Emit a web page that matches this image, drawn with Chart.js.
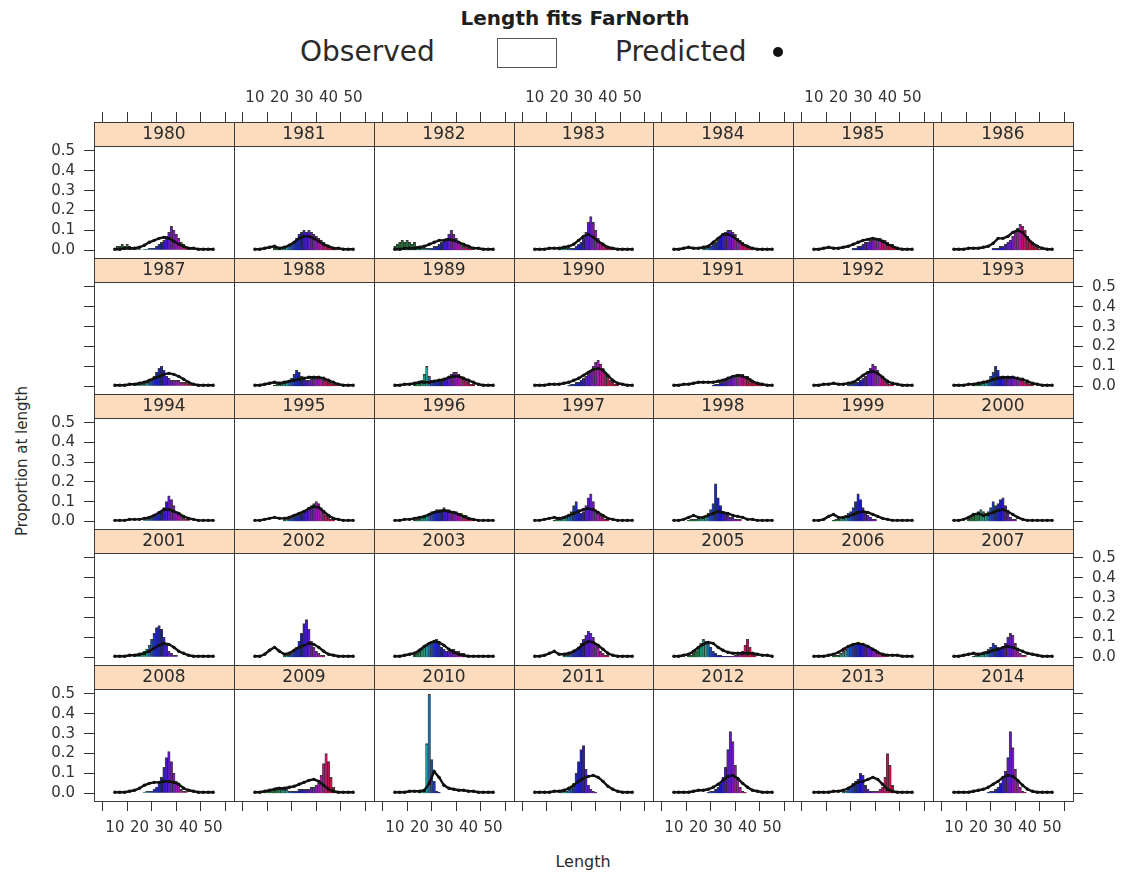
<!DOCTYPE html>
<html>
<head>
<meta charset="utf-8">
<title>Length fits FarNorth</title>
<script src="https://cdn.jsdelivr.net/npm/chart.js@4.4.1/dist/chart.umd.min.js"></script>
<style>
  html, body { margin: 0; padding: 0; background: #fff; }
  #page { position: relative; width: 1124px; height: 878px; overflow: hidden;
          font-family: "DejaVu Sans", sans-serif; color: #222; }
  #page canvas { position: absolute; }
  .txt { position: absolute; white-space: nowrap; line-height: 1; }
</style>
</head>
<body>
<div id="page">
  <div class="txt" style="left:575px;top:18px;transform:translate(-50%,-50%);font-weight:bold;font-size:20px;color:#1e1e1e;">Length fits FarNorth</div>
  <div class="txt" style="left:300px;top:52px;transform:translateY(-50%);font-size:28px;color:#2a2a2a;">Observed</div>
  <div style="position:absolute;left:497px;top:38px;width:58px;height:28px;border:1px solid #555;"></div>
  <div class="txt" style="left:615px;top:52px;transform:translateY(-50%);font-size:28px;color:#2a2a2a;">Predicted</div>
  <div style="position:absolute;left:773px;top:47px;width:10px;height:10px;border-radius:50%;background:#111;"></div>
  <div class="txt" style="left:22px;top:461px;transform:translate(-50%,-50%) rotate(-90deg);font-size:15px;color:#2a2a2a;">Proportion at length</div>
  <div class="txt" style="left:583px;top:862px;transform:translate(-50%,-50%);font-size:16px;color:#2a2a2a;">Length</div>
</div>
<script>
// Survey years, one panel each
const years = [1980, 1981, 1982, 1983, 1984, 1985, 1986,
               1987, 1988, 1989, 1990, 1991, 1992, 1993,
               1994, 1995, 1996, 1997, 1998, 1999, 2000,
               2001, 2002, 2003, 2004, 2005, 2006, 2007,
               2008, 2009, 2010, 2011, 2012, 2013, 2014];

const xTickValues = [10, 20, 30, 40, 50];
const yTickValues = [0, 0.1, 0.2, 0.3, 0.4, 0.5];

// Observed proportions at length (1 cm bins), first bin given in obsStart
const obsStart = [10, 18, 10, 20, 22, 26, 26,
                  18, 18, 18, 24, 26, 24, 18,
                  22, 22, 18, 18, 16, 18, 16,
                  18, 22, 18, 22, 16, 18, 18,
                  22, 14, 20, 21, 24, 22, 24];

const obsProp = [
  [0.01,0.02,0.02,0.03,0.02,0.03,0.02,0.01,0.01,0.005,0.005,0,0.005,0.005,0.01,0.01,0.01,0.02,0.03,0.04,0.05,0.07,0.09,0.12,0.10,0.08,0.06,0.04,0.03,0.02,0.01,0.005],
  [0.01,0.01,0.01,0.01,0.02,0.02,0.03,0.03,0.04,0.06,0.08,0.09,0.10,0.09,0.10,0.09,0.08,0.07,0.06,0.05,0.04,0.03,0.02,0.02,0.01,0.01],
  [0.02,0.03,0.04,0.05,0.04,0.05,0.04,0.03,0.04,0.02,0.01,0.01,0.01,0.01,0.01,0.01,0.02,0.02,0.03,0.04,0.05,0.06,0.08,0.10,0.08,0.06,0.04,0.03,0.02,0.02,0.01,0.01],
  [0.005,0.01,0.01,0.01,0.01,0.01,0.01,0.02,0.03,0.04,0.06,0.09,0.14,0.17,0.14,0.10,0.06,0.04,0.03,0.02,0.01,0.01,0.005],
  [0.01,0.01,0.02,0.02,0.03,0.04,0.05,0.07,0.08,0.09,0.10,0.10,0.09,0.08,0.06,0.05,0.04,0.03,0.02,0.01,0.01],
  [0.01,0.01,0.02,0.02,0.03,0.04,0.04,0.05,0.05,0.06,0.06,0.06,0.05,0.05,0.04,0.03,0.03,0.02,0.01,0.01],
  [0.01,0.01,0.01,0.02,0.02,0.03,0.04,0.05,0.07,0.09,0.11,0.13,0.12,0.10,0.07,0.05,0.03,0.02,0.01,0.005],
  [0.005,0.01,0.01,0.01,0.01,0.02,0.02,0.03,0.05,0.07,0.09,0.10,0.08,0.05,0.04,0.03,0.03,0.03,0.03,0.02,0.02,0.02,0.01,0.01],
  [0.005,0.01,0.01,0.01,0.02,0.02,0.03,0.04,0.06,0.08,0.07,0.05,0.04,0.03,0.03,0.04,0.04,0.04,0.04,0.04,0.03,0.03,0.02,0.02,0.01,0.01],
  [0.01,0.02,0.02,0.03,0.06,0.10,0.05,0.03,0.03,0.03,0.03,0.03,0.03,0.04,0.05,0.06,0.07,0.07,0.06,0.05,0.04,0.03,0.02,0.01,0.01],
  [0.005,0.01,0.01,0.02,0.02,0.03,0.04,0.05,0.06,0.08,0.10,0.12,0.13,0.11,0.09,0.07,0.05,0.03,0.02,0.01,0.01],
  [0.005,0.01,0.01,0.02,0.02,0.03,0.03,0.04,0.04,0.05,0.05,0.06,0.06,0.05,0.05,0.04,0.03,0.02,0.02,0.01,0.01],
  [0.005,0.01,0.01,0.02,0.02,0.03,0.04,0.05,0.07,0.09,0.11,0.10,0.08,0.06,0.04,0.03,0.02,0.01,0.01],
  [0.005,0.01,0.01,0.01,0.02,0.02,0.03,0.05,0.07,0.10,0.08,0.05,0.04,0.04,0.04,0.04,0.05,0.04,0.04,0.03,0.03,0.02,0.02,0.01,0.01],
  [0.005,0.01,0.01,0.02,0.02,0.03,0.04,0.05,0.07,0.10,0.13,0.11,0.08,0.05,0.04,0.03,0.02,0.01,0.01],
  [0.005,0.01,0.01,0.02,0.02,0.03,0.03,0.04,0.05,0.06,0.07,0.08,0.09,0.10,0.09,0.07,0.05,0.03,0.02,0.01,0.01],
  [0.005,0.01,0.01,0.02,0.02,0.03,0.04,0.05,0.05,0.06,0.06,0.06,0.07,0.06,0.06,0.05,0.05,0.05,0.04,0.04,0.03,0.03,0.02,0.01,0.01],
  [0.005,0.01,0.01,0.01,0.02,0.02,0.03,0.05,0.08,0.10,0.06,0.04,0.05,0.08,0.12,0.14,0.10,0.06,0.04,0.03,0.02,0.01,0.01],
  [0.005,0.01,0.01,0.01,0.02,0.02,0.02,0.03,0.04,0.06,0.09,0.19,0.12,0.08,0.05,0.04,0.03,0.02,0.02,0.01,0.01,0.01],
  [0.005,0.01,0.01,0.02,0.02,0.03,0.04,0.05,0.07,0.10,0.14,0.11,0.07,0.04,0.03,0.02,0.01,0.01],
  [0.01,0.02,0.03,0.04,0.05,0.06,0.05,0.04,0.05,0.07,0.10,0.08,0.09,0.11,0.12,0.08,0.04,0.02,0.01,0.01],
  [0.005,0.01,0.01,0.02,0.03,0.04,0.06,0.09,0.12,0.15,0.16,0.14,0.10,0.06,0.03,0.02,0.01,0.01],
  [0.005,0.01,0.01,0.02,0.03,0.05,0.08,0.12,0.17,0.19,0.14,0.08,0.05,0.03,0.02,0.01,0.01],
  [0.01,0.02,0.03,0.04,0.05,0.06,0.07,0.08,0.08,0.09,0.07,0.05,0.04,0.03,0.03,0.04,0.04,0.03,0.03,0.02,0.02,0.01,0.01],
  [0.005,0.01,0.01,0.02,0.03,0.04,0.05,0.07,0.09,0.11,0.13,0.12,0.10,0.07,0.05,0.03,0.02,0.01,0.01],
  [0.005,0.01,0.02,0.03,0.05,0.07,0.09,0.08,0.07,0.05,0.03,0.02,0.01,0.01,0.005,0.005,0.005,0.005,0.005,0.01,0.01,0.02,0.03,0.06,0.09,0.05,0.02,0.01],
  [0.005,0.01,0.01,0.02,0.03,0.04,0.05,0.06,0.06,0.07,0.07,0.07,0.07,0.06,0.06,0.05,0.04,0.04,0.03,0.02,0.01,0.01],
  [0.005,0.01,0.01,0.02,0.02,0.03,0.04,0.05,0.07,0.06,0.05,0.04,0.05,0.07,0.10,0.12,0.11,0.07,0.04,0.02,0.01,0.01],
  [0.005,0.01,0.01,0.01,0.02,0.03,0.05,0.08,0.13,0.18,0.21,0.16,0.10,0.06,0.04,0.02,0.01,0.01],
  [0.005,0.01,0.01,0.02,0.02,0.03,0.03,0.02,0.02,0.02,0.01,0.01,0.01,0.01,0.02,0.02,0.02,0.02,0.02,0.03,0.03,0.04,0.05,0.09,0.15,0.20,0.16,0.08,0.03,0.01],
  [0.005,0.01,0.02,0.25,0.50,0.17,0.06,0.01,0.005],
  [0.005,0.01,0.01,0.02,0.03,0.05,0.10,0.16,0.22,0.24,0.12,0.04,0.02,0.01,0.005],
  [0.005,0.01,0.01,0.02,0.03,0.05,0.08,0.13,0.22,0.31,0.26,0.14,0.07,0.03,0.01,0.005],
  [0.005,0.01,0.02,0.03,0.05,0.06,0.07,0.10,0.09,0.04,0.02,0.01,0.01,0.01,0.01,0.02,0.03,0.08,0.20,0.14,0.04,0.01],
  [0.005,0.01,0.01,0.02,0.03,0.05,0.07,0.11,0.18,0.31,0.23,0.12,0.06,0.03,0.01,0.005]
];

// Model-predicted proportions at length
const predLength = [10, 12, 14, 16, 18, 20, 22, 24, 26, 28, 30, 32, 34, 36, 38, 40, 42, 44, 46, 48, 50];

const predProp = [
  [0.005,0.005,0.01,0.01,0.01,0.015,0.025,0.04,0.05,0.06,0.065,0.06,0.045,0.03,0.02,0.01,0.01,0.005,0.005,0.005,0.005],
  [0.005,0.005,0.01,0.015,0.02,0.01,0.015,0.025,0.04,0.06,0.07,0.07,0.06,0.045,0.03,0.02,0.01,0.01,0.005,0.005,0.005],
  [0.005,0.005,0.01,0.01,0.01,0.015,0.02,0.03,0.04,0.05,0.05,0.055,0.05,0.04,0.03,0.02,0.01,0.01,0.005,0.005,0.005],
  [0.005,0.005,0.005,0.01,0.01,0.01,0.015,0.02,0.03,0.05,0.07,0.08,0.065,0.045,0.03,0.015,0.01,0.005,0.005,0.005,0.005],
  [0.005,0.005,0.01,0.015,0.01,0.01,0.015,0.02,0.04,0.06,0.08,0.08,0.07,0.05,0.03,0.02,0.01,0.005,0.005,0.005,0.005],
  [0.005,0.005,0.01,0.015,0.01,0.01,0.015,0.02,0.03,0.04,0.05,0.055,0.06,0.055,0.045,0.03,0.02,0.01,0.005,0.005,0.005],
  [0.005,0.005,0.005,0.01,0.01,0.01,0.015,0.02,0.035,0.06,0.06,0.07,0.09,0.10,0.09,0.06,0.035,0.02,0.01,0.005,0.005],
  [0.005,0.005,0.005,0.01,0.01,0.015,0.02,0.03,0.04,0.05,0.06,0.065,0.06,0.05,0.035,0.02,0.01,0.005,0.005,0.005,0.005],
  [0.005,0.005,0.01,0.015,0.02,0.015,0.02,0.025,0.03,0.035,0.04,0.045,0.045,0.045,0.04,0.03,0.02,0.01,0.005,0.005,0.005],
  [0.005,0.005,0.01,0.01,0.015,0.02,0.02,0.02,0.025,0.03,0.035,0.045,0.05,0.05,0.04,0.03,0.02,0.01,0.005,0.005,0.005],
  [0.005,0.005,0.005,0.01,0.01,0.01,0.015,0.02,0.03,0.04,0.055,0.07,0.085,0.09,0.08,0.055,0.03,0.015,0.01,0.005,0.005],
  [0.005,0.005,0.01,0.01,0.015,0.02,0.02,0.02,0.02,0.025,0.03,0.04,0.05,0.055,0.05,0.04,0.025,0.015,0.01,0.005,0.005],
  [0.005,0.005,0.01,0.01,0.015,0.01,0.01,0.015,0.02,0.035,0.055,0.07,0.075,0.065,0.045,0.025,0.015,0.01,0.005,0.005,0.005],
  [0.005,0.005,0.005,0.01,0.01,0.015,0.02,0.025,0.035,0.04,0.045,0.045,0.045,0.04,0.035,0.025,0.015,0.01,0.005,0.005,0.005],
  [0.005,0.005,0.005,0.01,0.01,0.01,0.015,0.02,0.03,0.045,0.06,0.06,0.05,0.04,0.025,0.015,0.01,0.005,0.005,0.005,0.005],
  [0.005,0.005,0.01,0.015,0.02,0.015,0.015,0.02,0.03,0.04,0.05,0.065,0.075,0.07,0.05,0.03,0.015,0.01,0.005,0.005,0.005],
  [0.005,0.005,0.01,0.01,0.015,0.02,0.025,0.035,0.045,0.05,0.055,0.05,0.045,0.035,0.025,0.015,0.01,0.005,0.005,0.005,0.005],
  [0.005,0.005,0.01,0.015,0.02,0.015,0.02,0.03,0.04,0.05,0.06,0.065,0.06,0.045,0.03,0.015,0.01,0.005,0.005,0.005,0.005],
  [0.005,0.005,0.01,0.02,0.03,0.02,0.02,0.03,0.04,0.05,0.045,0.04,0.03,0.025,0.02,0.01,0.01,0.005,0.005,0.005,0.005],
  [0.005,0.005,0.01,0.025,0.035,0.02,0.02,0.025,0.035,0.045,0.05,0.045,0.035,0.025,0.015,0.01,0.005,0.005,0.005,0.005,0.005],
  [0.005,0.005,0.01,0.02,0.035,0.04,0.03,0.035,0.045,0.055,0.06,0.05,0.035,0.02,0.01,0.005,0.005,0.005,0.005,0.005,0.005],
  [0.005,0.005,0.005,0.01,0.01,0.015,0.02,0.03,0.045,0.06,0.07,0.065,0.05,0.03,0.02,0.01,0.005,0.005,0.005,0.005,0.005],
  [0.005,0.005,0.015,0.035,0.05,0.03,0.015,0.02,0.035,0.05,0.06,0.07,0.065,0.05,0.03,0.015,0.01,0.005,0.005,0.005,0.005],
  [0.005,0.005,0.01,0.015,0.02,0.035,0.055,0.07,0.08,0.075,0.06,0.04,0.025,0.015,0.01,0.005,0.005,0.005,0.005,0.005,0.005],
  [0.005,0.005,0.01,0.02,0.03,0.015,0.015,0.02,0.03,0.045,0.065,0.08,0.075,0.06,0.04,0.02,0.01,0.005,0.005,0.005,0.005],
  [0.005,0.005,0.01,0.015,0.03,0.05,0.065,0.075,0.07,0.05,0.035,0.025,0.02,0.02,0.02,0.02,0.02,0.015,0.01,0.01,0.005],
  [0.005,0.005,0.005,0.01,0.015,0.025,0.04,0.055,0.065,0.07,0.065,0.055,0.04,0.025,0.015,0.01,0.01,0.01,0.005,0.005,0.005],
  [0.005,0.005,0.01,0.015,0.02,0.015,0.02,0.025,0.035,0.04,0.05,0.055,0.05,0.04,0.03,0.02,0.015,0.01,0.005,0.005,0.005],
  [0.005,0.005,0.005,0.01,0.015,0.025,0.04,0.05,0.055,0.055,0.06,0.06,0.055,0.045,0.025,0.015,0.01,0.005,0.005,0.005,0.005],
  [0.005,0.005,0.01,0.015,0.02,0.025,0.025,0.03,0.035,0.045,0.055,0.065,0.07,0.06,0.04,0.02,0.01,0.005,0.005,0.005,0.005],
  [0.005,0.005,0.005,0.01,0.01,0.01,0.015,0.05,0.11,0.08,0.04,0.025,0.02,0.015,0.015,0.01,0.01,0.005,0.005,0.005,0.005],
  [0.005,0.005,0.005,0.005,0.01,0.01,0.015,0.025,0.04,0.06,0.075,0.085,0.09,0.08,0.06,0.035,0.02,0.01,0.005,0.005,0.005],
  [0.005,0.005,0.005,0.005,0.01,0.015,0.015,0.02,0.03,0.045,0.065,0.085,0.09,0.075,0.05,0.03,0.015,0.01,0.005,0.005,0.005],
  [0.005,0.005,0.005,0.005,0.01,0.01,0.015,0.025,0.04,0.055,0.06,0.07,0.08,0.07,0.045,0.02,0.01,0.005,0.005,0.005,0.005],
  [0.005,0.005,0.005,0.005,0.01,0.015,0.02,0.03,0.045,0.06,0.08,0.09,0.085,0.065,0.04,0.02,0.01,0.005,0.005,0.005,0.005]
];

// ---- layout of the 7 x 5 lattice ----
const NCOL = 7, NROW = 5;
const GRID_LEFT = 94, GRID_RIGHT = 1073, GRID_TOP = 122, GRID_BOTTOM = 801;
const EDGE = 12;                       // spare canvas margin around each panel
const AX_LEFT = 62, AX_RIGHT = 52, AX_TOP = 34, AX_BOTTOM = 40;
const X_MIN = 7.2, X_MAX = 52.8, Y_MIN = -0.039, Y_MAX = 0.525;
const FONT = '"DejaVu Sans", sans-serif';
const INK = '#333';
const STRIP_FILL = '#fbdcbf';

Chart.defaults.font.family = FONT;

function colX(c) { return Math.round(GRID_LEFT + c * (GRID_RIGHT - GRID_LEFT) / NCOL); }
function rowY(r) { return Math.round(GRID_TOP + r * (GRID_BOTTOM - GRID_TOP) / NROW); }

// bar colour runs green -> teal -> blue -> violet -> red with length
const hueStops = [
  [10, 130, 55, 28], [19, 140, 60, 30], [21, 160, 60, 36], [23, 175, 65, 38],
  [24, 208, 75, 40], [26, 232, 75, 42], [29, 240, 78, 42], [31, 258, 78, 44],
  [34, 275, 78, 42], [36, 295, 75, 40], [38, 325, 80, 40], [41, 345, 85, 42], [52, 350, 85, 40]
];
function lengthColor(len) {
  for (let k = 0; k < hueStops.length - 1; k++) {
    const a = hueStops[k], b = hueStops[k + 1];
    if (len <= b[0]) {
      const t = Math.max(0, (len - a[0]) / (b[0] - a[0]));
      const h = a[1] + t * (b[1] - a[1]), s = a[2] + t * (b[2] - a[2]), l = a[3] + t * (b[3] - a[3]);
      return `hsl(${h.toFixed(1)},${s.toFixed(1)}%,${l.toFixed(1)}%)`;
    }
  }
  const z = hueStops[hueStops.length - 1];
  return `hsl(${z[1]},${z[2]}%,${z[3]}%)`;
}

// strip background behind the year label, and the panel frame
const panelFrame = {
  id: 'panelFrame',
  beforeDraw(chart) {
    const { ctx, chartArea: a, titleBlock: t } = chart;
    ctx.save();
    ctx.fillStyle = STRIP_FILL;
    ctx.fillRect(a.left, t.top, a.right - a.left, t.height);
    ctx.restore();
  },
  afterDraw(chart) {
    const { ctx, chartArea: a, titleBlock: t } = chart;
    ctx.save();
    ctx.strokeStyle = '#3a3a3a';
    ctx.lineWidth = 1;
    ctx.strokeRect(a.left + 0.5, t.top + 0.5, a.right - a.left, a.bottom - t.top);
    ctx.beginPath();
    ctx.moveTo(a.left, a.top + 0.5);
    ctx.lineTo(a.right + 1, a.top + 0.5);
    ctx.stroke();
    ctx.restore();
  }
};

function axisGrid() {
  return { display: true, drawOnChartArea: false, drawTicks: true, tickLength: 10, color: INK, lineWidth: 1 };
}
// fixed axis band size, only for axes that are shown
function fixHeight(h) {
  return s => { if (s.options.display) { s.height = h; } s.paddingLeft = 0; s.paddingRight = 0; };
}
function fixWidth(w) {
  return s => { if (s.options.display) { s.width = w; } s.paddingTop = 0; s.paddingBottom = 0; };
}

const page = document.getElementById('page');

years.forEach((yr, i) => {
  const r = Math.floor(i / NCOL), c = i % NCOL;
  const x0 = colX(c), x1 = colX(c + 1), y0 = rowY(r), y1 = rowY(r + 1);
  const L = c === 0 ? AX_LEFT : 0;
  const R = c === NCOL - 1 ? AX_RIGHT : 0;
  const T = r === 0 ? AX_TOP : 0;
  const B = r === NROW - 1 ? AX_BOTTOM : 0;
  const W = 2 * EDGE + L + (x1 - x0) + R;
  const H = 2 * EDGE + T + (y1 - y0) + B;

  const cv = document.createElement('canvas');
  cv.width = W; cv.height = H;
  cv.style.left = (x0 - L - EDGE) + 'px';
  cv.style.top = (y0 - T - EDGE) + 'px';
  cv.style.width = W + 'px';
  cv.style.height = H + 'px';
  page.appendChild(cv);

  const obs = obsProp[i].map((v, k) => ({ x: obsStart[i] + k, y: v }));
  const pred = predLength.map((x, k) => ({ x: x, y: predProp[i][k] }));
  const tickFont = { family: FONT, size: 15 };

  new Chart(cv, {
    type: 'bar',
    data: {
      datasets: [
        {
          type: 'line', label: 'Predicted', data: pred, order: 1,
          borderColor: '#111', borderWidth: 2.4, tension: 0,
          pointRadius: 1.7, pointBackgroundColor: '#111', pointBorderWidth: 0,
          xAxisID: 'x', yAxisID: 'y'
        },
        {
          type: 'bar', label: 'Observed', data: obs, order: 2,
          backgroundColor: obs.map(p => lengthColor(p.x)),
          borderColor: 'rgba(10,10,10,0.8)',
          borderWidth: { top: 1.5, left: 0.6, right: 0.6, bottom: 0 },
          borderSkipped: 'start',
          barPercentage: 1, categoryPercentage: 1,
          xAxisID: 'x', yAxisID: 'y'
        }
      ]
    },
    options: {
      responsive: false,
      animation: false,
      devicePixelRatio: 1,
      layout: { padding: EDGE },
      events: [],
      plugins: {
        legend: { display: false },
        tooltip: { enabled: false },
        title: {
          display: true, text: String(yr), position: 'top', fullSize: false, weight: 2000,
          color: '#2a2a2a', font: { family: FONT, size: 17, weight: 'normal', lineHeight: 1 },
          padding: { top: 4, bottom: 3 }
        }
      },
      scales: {
        x: {
          type: 'linear', position: 'bottom', display: r === NROW - 1,
          min: X_MIN, max: X_MAX,
          afterBuildTicks: s => { s.ticks = xTickValues.map(v => ({ value: v })); },
          afterFit: fixHeight(AX_BOTTOM),
          ticks: { callback: v => (c % 2 === 0 ? String(v) : ''), autoSkip: false, maxRotation: 0,
                   padding: 8, color: INK, font: tickFont },
          grid: axisGrid(), border: { display: false }
        },
        x2: {
          type: 'linear', position: 'top', display: r === 0, weight: 3000,
          min: X_MIN, max: X_MAX,
          afterBuildTicks: s => { s.ticks = xTickValues.map(v => ({ value: v })); },
          afterFit: fixHeight(AX_TOP),
          ticks: { callback: v => (c % 2 === 1 ? String(v) : ''), autoSkip: false, maxRotation: 0,
                   padding: 5, color: INK, font: tickFont },
          grid: axisGrid(), border: { display: false }
        },
        y: {
          type: 'linear', position: 'left', display: c === 0,
          min: Y_MIN, max: Y_MAX,
          afterBuildTicks: s => { s.ticks = yTickValues.map(v => ({ value: v })); },
          afterFit: fixWidth(AX_LEFT),
          ticks: { callback: v => (r % 2 === 0 ? v.toFixed(1) : ''), autoSkip: false,
                   padding: 9, color: INK, font: tickFont },
          grid: axisGrid(), border: { display: false }
        },
        y2: {
          type: 'linear', position: 'right', display: c === NCOL - 1,
          min: Y_MIN, max: Y_MAX,
          afterBuildTicks: s => { s.ticks = yTickValues.map(v => ({ value: v })); },
          afterFit: fixWidth(AX_RIGHT),
          ticks: { callback: v => (r % 2 === 1 ? v.toFixed(1) : ''), autoSkip: false,
                   padding: 9, color: INK, font: tickFont },
          grid: axisGrid(), border: { display: false }
        }
      }
    },
    plugins: [panelFrame]
  });
});
</script>
</body>
</html>
